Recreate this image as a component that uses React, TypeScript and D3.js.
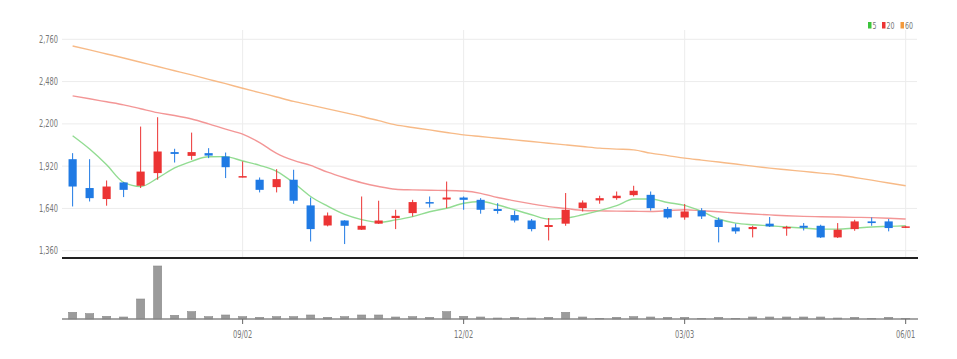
import React, { useRef, useEffect } from "react";
import * as d3 from "d3";

const dates = [
  "06/24", "07/01", "07/08", "07/15", "07/22", "07/29", "08/05", "08/12", "08/19", "08/26",
  "09/02", "09/09", "09/16", "09/23", "09/30", "10/07", "10/14", "10/21", "10/28", "11/04",
  "11/11", "11/18", "11/25", "12/02", "12/09", "12/16", "12/23", "12/30", "01/06", "01/13",
  "01/20", "01/27", "02/03", "02/10", "02/17", "02/24", "03/03", "03/10", "03/17", "03/24",
  "03/31", "04/07", "04/14", "04/21", "04/28", "05/05", "05/12", "05/19", "05/26", "06/01",
];
const tickLabels = ["09/02", "12/02", "03/03", "06/01"];
const priceTicks = [1360, 1640, 1920, 2200, 2480, 2760];

const opens = [
  1966, 1775, 1702, 1812, 1790, 1874, 2013, 1988, 2006, 1984,
  1845, 1830, 1781, 1830, 1660, 1527, 1560, 1499, 1539, 1576,
  1609, 1682, 1699, 1712, 1697, 1636, 1596, 1560, 1517, 1539,
  1642, 1693, 1708, 1728, 1730, 1636, 1580, 1626, 1565, 1514,
  1503, 1539, 1507, 1525, 1525, 1448, 1503, 1554, 1554, 1512,
];
const highs = [
  2006, 1966, 1825, 1815, 2182, 2244, 2035, 2142, 2039, 2010,
  1951, 1845, 1900, 1896, 1712, 1613, 1562, 1719, 1691, 1631,
  1697, 1719, 1818, 1719, 1708, 1675, 1625, 1570, 1576, 1742,
  1693, 1724, 1752, 1790, 1752, 1649, 1669, 1642, 1580, 1539,
  1525, 1583, 1525, 1543, 1532, 1543, 1565, 1580, 1570, 1525,
];
const lows = [
  1653, 1686, 1658, 1715, 1775, 1830, 1944, 1962, 1973, 1841,
  1845, 1746, 1746, 1671, 1421, 1521, 1404, 1497, 1537, 1503,
  1587, 1646, 1642, 1631, 1605, 1605, 1547, 1488, 1428, 1525,
  1620, 1671, 1697, 1719, 1626, 1572, 1565, 1570, 1415, 1472,
  1448, 1517, 1459, 1494, 1444, 1444, 1492, 1525, 1488, 1510,
];
const closes = [
  1785, 1708, 1785, 1763, 1884, 2017, 2001, 2013, 1990, 1913,
  1854, 1763, 1834, 1691, 1503, 1593, 1525, 1525, 1560, 1591,
  1682, 1675, 1712, 1697, 1631, 1623, 1560, 1503, 1530, 1631,
  1679, 1708, 1724, 1757, 1642, 1580, 1620, 1587, 1517, 1488,
  1517, 1521, 1517, 1512, 1448, 1499, 1554, 1543, 1510, 1521,
];
const volumes = [
  200, 160, 80, 60, 600, 1590, 110, 220, 70, 120,
  70, 50, 70, 70, 120, 50, 70, 120, 120, 60,
  70, 50, 220, 80, 60, 30, 50, 30, 50, 200,
  60, 20, 50, 70, 60, 50, 50, 20, 50, 20,
  60, 60, 60, 60, 60, 30, 50, 20, 50, 20,
];
const ma5 = [
  2121, 2033, 1929, 1812, 1785, 1841, 1908, 1952, 1982, 1983,
  1954, 1925, 1886, 1810, 1719, 1655, 1600, 1566, 1548, 1564,
  1586, 1618, 1641, 1674, 1686, 1663, 1631, 1598, 1570, 1576,
  1598, 1625, 1658, 1702, 1702, 1679, 1660, 1620, 1570, 1543,
  1532, 1525, 1517, 1510, 1503, 1503, 1510, 1517, 1521, 1525,
];
const ma20 = [
  2385, 2366, 2346, 2326, 2300, 2274, 2255, 2232, 2200, 2165,
  2132, 2076, 2005, 1958, 1925, 1880, 1843, 1810, 1785, 1767,
  1763, 1760, 1759, 1755, 1740, 1712, 1690, 1670, 1652, 1640,
  1626, 1624, 1622, 1621, 1620, 1625, 1631, 1625, 1618, 1610,
  1603, 1597, 1591, 1587, 1585, 1583, 1581, 1579, 1575, 1570,
];
const ma60 = [
  2716, 2690, 2663, 2636, 2608, 2580, 2552, 2524, 2495, 2466,
  2436, 2407, 2378, 2349, 2324, 2299, 2274, 2249, 2221, 2193,
  2176, 2160, 2143, 2127, 2116, 2105, 2094, 2083, 2072, 2061,
  2050, 2039, 2033, 2028, 2006, 1990, 1973, 1960, 1947, 1934,
  1920, 1907, 1896, 1885, 1874, 1863, 1845, 1827, 1808, 1790,
];

const UP = "#ec3434";
const DOWN = "#1f7ae4";
const FONT = "'DejaVu Sans Condensed', 'DejaVu Sans', sans-serif";
const SQUEEZE = 0.74; // the original uses a narrow face

export default function App() {
  const svgRef = useRef<SVGSVGElement>(null);

  useEffect(() => {
    if (!svgRef.current) return;
    const svg = d3.select(svgRef.current);
    svg.selectAll("*").remove();

    const width = 957;
    const height = 359;
    const left = 62;
    const right = 917;
    const priceBottom = 258;
    const volBottom = 319;

    const idx = dates.map((_, i) => i);
    const x = d3.scaleBand<number>().domain(idx).range([59.7, 918.6]).padding(0.52);
    const cx = (i: number) => (x(i) || 0) + x.bandwidth() / 2;
    const y = d3.scaleLinear().domain([1360, 2760]).range([250.7, 39.3]);
    const yv = d3.scaleLinear().domain([0, d3.max(volumes) || 1]).range([volBottom, 266]);

    const narrowText = (
      g: d3.Selection<SVGGElement, unknown, null, undefined>,
      tx: number,
      ty: number,
      label: string,
      anchor: string,
      size: number
    ) =>
      g.append("text")
        .attr("transform", `translate(${tx},${ty}) scale(${SQUEEZE},1)`)
        .attr("text-anchor", anchor)
        .attr("fill", "#777")
        .attr("font-size", `${size}px`)
        .attr("font-family", FONT)
        .text(label);

    svg.append("rect").attr("width", width).attr("height", height).attr("fill", "#fff");

    // grid
    svg.append("g")
      .selectAll("line")
      .data(priceTicks)
      .enter()
      .append("line")
      .attr("x1", left)
      .attr("x2", right)
      .attr("y1", (d) => y(d))
      .attr("y2", (d) => y(d))
      .attr("stroke", "#ececec")
      .attr("stroke-width", 1);

    const tickIdx = tickLabels.map((t) => dates.lastIndexOf(t));
    svg.append("g")
      .selectAll("line")
      .data(tickIdx)
      .enter()
      .append("line")
      .attr("x1", (d) => cx(d))
      .attr("x2", (d) => cx(d))
      .attr("y1", 30)
      .attr("y2", priceBottom)
      .attr("stroke", "#ececec");

    // y labels
    const yl = svg.append("g");
    priceTicks.forEach((t) => narrowText(yl, 58, y(t) + 3.5, d3.format(",")(t), "end", 10));

    // moving averages
    const maDefs = [
      { data: ma60, color: "#f6b27a" },
      { data: ma20, color: "#f28b8b" },
      { data: ma5, color: "#86d886" },
    ];
    maDefs.forEach((m) => {
      const line = d3
        .line<number>()
        .x((_, i) => cx(i))
        .y((d) => y(d))
        .curve(d3.curveMonotoneX);
      svg.append("path")
        .datum(m.data)
        .attr("fill", "none")
        .attr("stroke", m.color)
        .attr("stroke-width", 1.4)
        .attr("opacity", 0.9)
        .attr("d", line);
    });

    // candles
    const candles = svg.append("g");
    idx.forEach((i) => {
      const up = closes[i] >= opens[i];
      const color = up ? UP : DOWN;
      candles.append("line")
        .attr("x1", cx(i))
        .attr("x2", cx(i))
        .attr("y1", y(highs[i]))
        .attr("y2", y(lows[i]))
        .attr("stroke", color)
        .attr("stroke-width", 1);
      const top = y(Math.max(opens[i], closes[i]));
      const bot = y(Math.min(opens[i], closes[i]));
      candles.append("rect")
        .attr("x", x(i) || 0)
        .attr("y", top)
        .attr("width", x.bandwidth())
        .attr("height", Math.max(1.5, bot - top))
        .attr("fill", color);
    });

    // separator
    svg.append("line")
      .attr("x1", left)
      .attr("x2", right + 1)
      .attr("y1", priceBottom)
      .attr("y2", priceBottom)
      .attr("stroke", "#222")
      .attr("stroke-width", 2);

    // volume
    svg.append("g")
      .selectAll("rect")
      .data(volumes)
      .enter()
      .append("rect")
      .attr("x", (_, i) => x(i) || 0)
      .attr("y", (d) => yv(d))
      .attr("width", x.bandwidth())
      .attr("height", (d) => volBottom - yv(d))
      .attr("fill", "#9b9b9b")
      .attr("stroke", "#8a8a8a")
      .attr("stroke-width", 0.6);

    svg.append("line")
      .attr("x1", left)
      .attr("x2", right + 1)
      .attr("y1", volBottom)
      .attr("y2", volBottom)
      .attr("stroke", "#888")
      .attr("stroke-width", 1.5);

    // x ticks
    const xt = svg.append("g");
    tickIdx.forEach((ti, k) => {
      xt.append("line")
        .attr("x1", cx(ti))
        .attr("x2", cx(ti))
        .attr("y1", volBottom)
        .attr("y2", volBottom + 5)
        .attr("stroke", "#666");
      narrowText(xt, cx(ti), 338, tickLabels[k], "middle", 10);
    });

    // legend
    const legendItems = [
      { label: "5", color: "#3cc43c", x: 868 },
      { label: "20", color: "#ec3434", x: 882 },
      { label: "60", color: "#f39a3c", x: 900.5 },
    ];
    const lg = svg.append("g");
    legendItems.forEach((it) => {
      lg.append("rect")
        .attr("x", it.x)
        .attr("y", 22)
        .attr("width", 3.5)
        .attr("height", 6.5)
        .attr("fill", it.color);
      narrowText(lg, it.x + 4.5, 28.5, it.label, "start", 9.5);
    });
  }, []);

  return (
    <svg
      ref={svgRef}
      width={957}
      height={359}
      style={{ position: "absolute", left: 0, top: 0, display: "block" }}
    />
  );
}
